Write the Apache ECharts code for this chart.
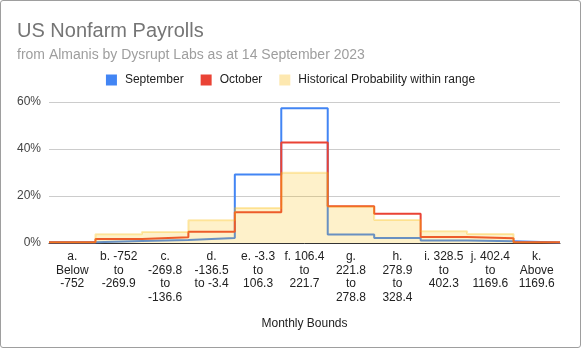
<!DOCTYPE html>
<html>
<head>
<meta charset="utf-8">
<script src="https://cdn.jsdelivr.net/npm/echarts@6/dist/echarts.min.js"></script>
<style>
html,body{margin:0;padding:0;background:#fff;}
#c{width:581px;height:348px;box-sizing:border-box;border:1px solid #9e9e9e;border-radius:3px;}
</style>
</head>
<body>
<div id="c"></div>
<script>
const categories = ["a. Below -752","b. -752 to -269.9","c. -269.8 to -136.6","d. -136.5 to -3.4","e. -3.3 to 106.3","f. 106.4 to 221.7","g. 221.8 to 278.8","h. 278.9 to 328.4","i. 328.5 to 402.3","j. 402.4 to 1169.6","k. Above 1169.6"];
const tickLabels = ["a.\nBelow\n-752","b. -752\nto\n-269.9","c.\n-269.8\nto\n-136.6","d.\n-136.5\nto -3.4","e. -3.3\nto\n106.3","f. 106.4\nto\n221.7","g.\n221.8\nto\n278.8","h.\n278.9\nto\n328.4","i. 328.5\nto\n402.3","j. 402.4\nto\n1169.6","k.\nAbove\n1169.6"];
const september = [0.3, 0.9, 1.3, 2.1, 29.2, 57.3, 3.6, 2.1, 1.1, 0.7, 0.2];
const october = [0.3, 1.7, 2.4, 4.8, 13.1, 42.8, 15.6, 12.4, 2.6, 2.0, 0.3];
const historical = [0.3, 3.7, 4.7, 9.7, 14.9, 29.9, 15.5, 9.8, 5.0, 3.8, 0.3];
const yTicks = [0, 20, 40, 60];

function steps(vals){
  const d = vals.map((v,i)=>[i, v]);
  d.push([vals.length, vals[vals.length-1]]);
  return d;
}
const FONT = '"Liberation Sans", Arial, sans-serif';
const chart = echarts.init(document.getElementById('c'), null, {renderer:'canvas'});
chart.setOption({
  animation:false,
  textStyle:{fontFamily:FONT},
  title:[
    {text:'US Nonfarm Payrolls', left:16, top:20, padding:0, textStyle:{fontFamily:FONT, fontSize:20, fontWeight:'normal', color:'#757575'}},
    {text:'from Almanis by Dysrupt Labs as at 14 September 2023', left:16, top:47, padding:0, textStyle:{fontFamily:FONT, fontSize:14, fontWeight:'normal', color:'#9e9e9e'}}
  ],
  legend:{
    left:'center', top:68, icon:'rect', itemWidth:11, itemHeight:11, itemGap:17,
    textStyle:{fontFamily:FONT, fontSize:12, color:'#222', padding:[0,0,0,3]},
    data:['September','October','Historical Probability within range']
  },
  grid:{left:48, right:20, top:101, bottom:104},
  xAxis:[
    {type:'category', data:categories, boundaryGap:true,
     axisLine:{show:true, lineStyle:{color:'#333', width:1}}, axisTick:{show:false},
     axisLabel:{interval:0, margin:7, color:'#222', fontSize:12, lineHeight:13.5, fontFamily:FONT,
       formatter:(v,i)=>tickLabels[i]},
     name:'Monthly Bounds', nameLocation:'middle', nameGap:75,
     nameTextStyle:{color:'#222', fontSize:12, fontFamily:FONT}},
    {type:'value', min:0, max:categories.length, show:false}
  ],
  yAxis:{type:'value', min:yTicks[0], max:yTicks[yTicks.length-1], interval:20,
    axisLine:{show:false}, axisTick:{show:false},
    splitLine:{lineStyle:{color:'#cccccc'}},
    axisLabel:{formatter:'{value}%', color:'#444', fontSize:12, margin:8, fontFamily:FONT}},
  series:[
    {name:'September', type:'line', xAxisIndex:1, step:'end', symbol:'none', data:steps(september),
     itemStyle:{color:'#4285f4'}, lineStyle:{color:'#4285f4', width:2}, z:2},
    {name:'October', type:'line', xAxisIndex:1, step:'end', symbol:'none', data:steps(october),
     itemStyle:{color:'#ea4335'}, lineStyle:{color:'#ea4335', width:2}, z:3},
    {name:'Historical Probability within range', type:'line', xAxisIndex:1, step:'end', symbol:'none', data:steps(historical),
     itemStyle:{color:'#fde8b0'}, lineStyle:{color:'rgba(251,188,4,0.3)', width:2},
     areaStyle:{color:'rgba(251,188,4,0.3)', origin:'start'}, z:4}
  ]
});
</script>
</body>
</html>
